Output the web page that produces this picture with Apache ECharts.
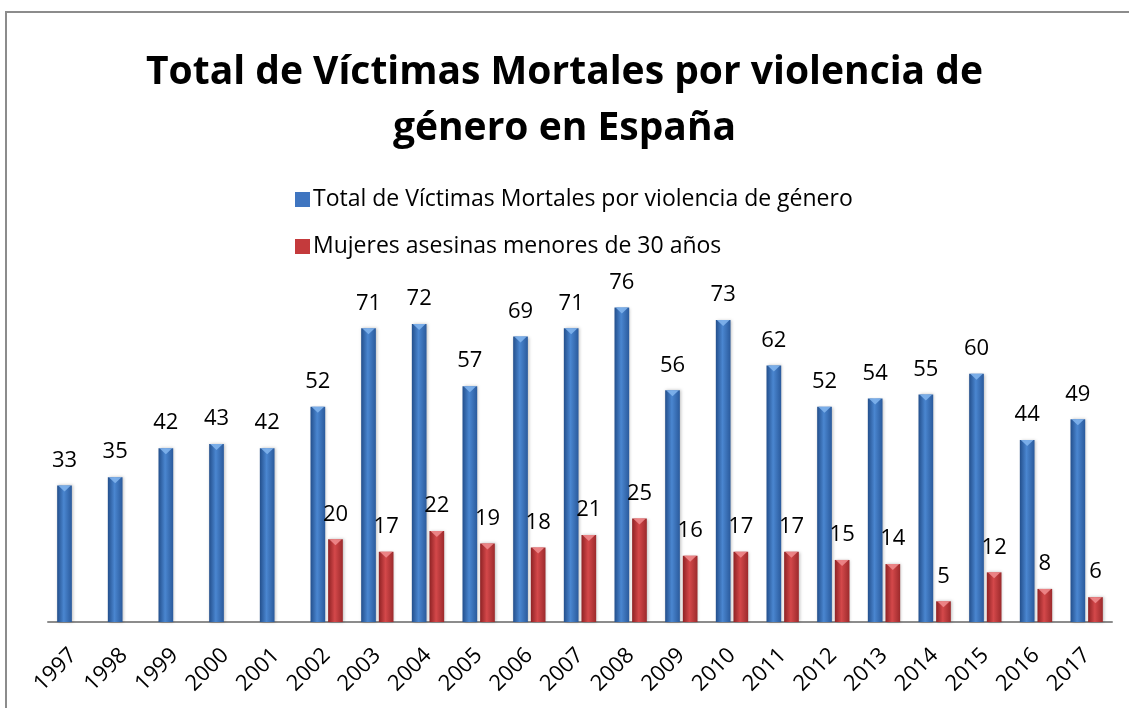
<!DOCTYPE html>
<html><head><meta charset="utf-8">
<script src="https://cdn.jsdelivr.net/npm/echarts@6/dist/echarts.min.js"></script>
<style>html,body{margin:0;padding:0;background:#fff}#c{width:1129px;height:708px}</style>
</head><body><div id="c"></div>
<script>
const years = ['1997','1998','1999','2000','2001','2002','2003','2004','2005','2006','2007','2008','2009','2010','2011','2012','2013','2014','2015','2016','2017'];
const totalVictims = [33,35,42,43,42,52,71,72,57,69,71,76,56,73,62,52,54,55,60,44,49];
const youngVictims = [null,null,null,null,null,20,17,22,19,18,21,25,16,17,17,15,14,5,12,8,6];
const seriesNames = ['Total de Víctimas Mortales por violencia de género','Mujeres asesinas menores de 30 años'];
const titleText = 'Total de Víctimas Mortales por violencia de\ngénero en España';

const FONT = 'Open Sans';
const BW = 0.29, GAP = 0.2;
function grad(c1,c2,c3){
  return new echarts.graphic.LinearGradient(0,0,1,0,[
    {offset:0,color:c1},{offset:0.45,color:c2},{offset:1,color:c3}]);
}
function bevel(sign, fill){
  return function(params, api){
    const v = api.value(1);
    if (v == null || isNaN(v)) return;
    const p = api.coord([api.value(0), v]);
    const band = api.size([1,0])[0];
    const bw = band*BW;
    const cx = p[0] + sign*(bw/2 + bw*GAP/2);
    return {type:'polygon',shape:{points:[[cx-bw/2+1,p[1]],[cx+bw/2-1,p[1]],[cx,p[1]+6]]},
      style:{fill:fill,opacity:0.9},silent:true};
  };
}
const bevelBlue = totalVictims.map((v,i)=>[i,v]);
const bevelRed = youngVictims.map((v,i)=>[i,v]);
const chart = echarts.init(document.getElementById('c'));
chart.setOption({
  animation:false,
  title:{text:titleText,left:'center',top:40,
    textStyle:{fontFamily:FONT,fontWeight:'bold',fontSize:39,lineHeight:56,color:'#000'}},
  legend:{orient:'vertical',left:290,top:181,itemGap:20,itemWidth:15,itemHeight:15,
    icon:'rect',
    textStyle:{fontFamily:FONT,fontSize:23,lineHeight:27,color:'#000',padding:[0,0,0,-2]},
    data:[{name:seriesNames[0],itemStyle:{color:'#3f75c0'}},{name:seriesNames[1],itemStyle:{color:'#c43a3c'}}]},
  grid:{left:48,right:17,top:291,bottom:86,containLabel:false},
  xAxis:{type:'category',data:years,
    axisLine:{lineStyle:{color:'#8c8c8c',width:2}},axisTick:{show:false},
    axisLabel:{rotate:45,interval:0,fontFamily:FONT,fontSize:22,color:'#000',margin:30}},
  yAxis:{type:'value',min:0,max:80,show:false,splitLine:{show:false}},
  series:[
    {name:seriesNames[0],type:'bar',data:totalVictims,barWidth:(BW*100)+'%',barGap:(GAP*100)+'%',
      itemStyle:{color:grad('#234f8c','#4a86d0','#2a5a9c'),shadowColor:'rgba(0,0,0,0.25)',shadowBlur:3,shadowOffsetX:1},
      label:{show:true,position:'top',distance:14,fontFamily:FONT,fontSize:22,color:'#000'}},
    {name:seriesNames[1],type:'bar',data:youngVictims,barWidth:(BW*100)+'%',
      itemStyle:{color:grad('#8e2224','#d4484a','#9c2a2c'),shadowColor:'rgba(0,0,0,0.25)',shadowBlur:3,shadowOffsetX:1},
      label:{show:true,position:'top',distance:14,fontFamily:FONT,fontSize:22,color:'#000'}},
    {type:'custom',data:bevelBlue,renderItem:bevel(-1,'#7fb2ec'),z:5,silent:true},
    {type:'custom',data:bevelRed,renderItem:bevel(1,'#ee8a8c'),z:5,silent:true}
  ],
  graphic:[{type:'rect',shape:{x:6,y:12,width:1125,height:710},
    style:{fill:'none',stroke:'#8c8c8c',lineWidth:2},silent:true}]
});
</script></body></html>
